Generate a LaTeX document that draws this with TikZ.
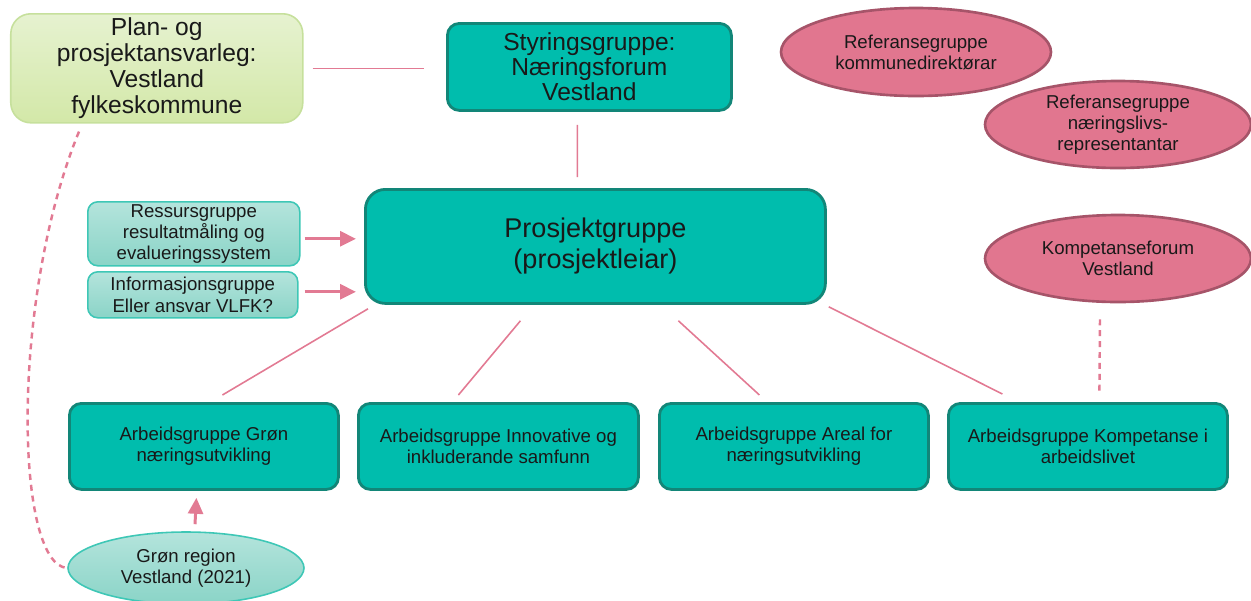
\documentclass[tikz,border=0pt]{standalone}
\usepackage{fontspec}
\setmainfont{Liberation Sans}
\usetikzlibrary{shapes,arrows.meta,positioning,calc}
\definecolor{vl-teal}{RGB}{0, 189, 173}
\definecolor{vl-tealdark}{RGB}{18, 134, 120}
\definecolor{vl-mint}{RGB}{62, 199, 182}
\definecolor{vl-minttop}{RGB}{180, 228, 220}
\definecolor{vl-mintbot}{RGB}{138, 212, 199}
\definecolor{vl-greentop}{RGB}{230, 242, 208}
\definecolor{vl-greenbot}{RGB}{211, 232, 168}
\definecolor{vl-green}{RGB}{198, 224, 156}
\definecolor{vl-pink}{RGB}{225, 118, 143}
\definecolor{vl-pinkdark}{RGB}{166, 84, 105}
\definecolor{vl-line}{RGB}{226, 122, 147}
\tikzstyle{a}=[anchor=north west]
\tikzstyle{base}=[align=center,text=black!90,inner sep=0pt]
\tikzstyle{small}=[font=\fontsize{10.6}{12}\selectfont]
\tikzstyle{large}=[font=\fontsize{14}{14.7}\selectfont]
\tikzstyle{group}=[base,a,draw=vl-tealdark,fill=vl-teal,line width=1.6pt,rounded corners=0.24cm]
\tikzstyle{support}=[base,a,small,draw=vl-mint,top color=vl-minttop,bottom color=vl-mintbot,line width=0.9pt,rounded corners=0.2cm]
\tikzstyle{owner}=[base,a,large,draw=vl-green,top color=vl-greentop,bottom color=vl-greenbot,line width=0.9pt,rounded corners=0.4cm]
\tikzstyle{reference}=[base,small,ellipse,draw=vl-pinkdark,fill=vl-pink,line width=1.5pt]
\tikzstyle{seed}=[base,small,ellipse,draw=vl-mint,top color=vl-minttop,bottom color=vl-mintbot,line width=0.9pt]
\tikzstyle{link}=[draw=vl-line,line width=0.9pt]
\tikzstyle{loose}=[draw=vl-line,line width=1.4pt,dash pattern=on 3.4pt off 2.8pt]
\tikzstyle{arrow}=[draw=vl-line,line width=1.7pt,-{Triangle[length=0.32cm,width=0.3cm]}]

\begin{document}
\begin{tikzpicture}
    \useasboundingbox (0,0) rectangle (25.02,-12);
    \clip (0,0) rectangle (25.02,-12);

    \node[owner, minimum width=5.84cm, minimum height=2.18cm] at (0.2,-0.26) (plan) {Plan- og\\prosjektansvarleg:\\Vestland\\fylkeskommune};
    \node[group, font=\fontsize{14}{14.2}\selectfont, minimum width=5.68cm, minimum height=1.74cm] at (8.92,-0.44) (styring) {Styringsgruppe:\\Næringsforum\\Vestland};
    \node[group, font=\fontsize{15.4}{17.6}\selectfont, rounded corners=0.4cm, minimum width=9.2cm, minimum height=2.28cm] at (7.28,-3.76) (prosjekt) {Prosjektgruppe\\(prosjektleiar)};

    \node[support, minimum width=4.24cm, minimum height=1.28cm] at (1.74,-4.02) (ressurs) {Ressursgruppe\\resultatmåling og\\evalueringssystem};
    \node[support, minimum width=4.2cm, minimum height=0.92cm] at (1.74,-5.42) (info) {Informasjonsgruppe\\Eller ansvar VLFK?};

    \node[reference, minimum width=5.4cm, minimum height=1.76cm] at (18.32,-1.04) (ref1) {Referansegruppe\\kommunedirektørar};
    \node[reference, minimum width=5.32cm, minimum height=1.74cm] at (22.36,-2.49) (ref2) {Referansegruppe\\næringslivs-\\representantar};
    \node[reference, minimum width=5.32cm, minimum height=1.74cm] at (22.36,-5.17) (komp) {Kompetanseforum\\Vestland};

    \node[group, small, minimum width=5.38cm, minimum height=1.72cm] at (1.36,-8.04) (a1) {Arbeidsgruppe Grøn\\næringsutvikling};
    \node[group, small, minimum width=5.6cm, minimum height=1.72cm] at (7.14,-8.04) (a2) {Arbeidsgruppe Innovative og\\inkluderande samfunn};
    \node[group, small, minimum width=5.38cm, minimum height=1.72cm] at (13.16,-8.04) (a3) {Arbeidsgruppe Areal for\\næringsutvikling};
    \node[group, small, minimum width=5.58cm, minimum height=1.72cm] at (18.94,-8.04) (a4) {Arbeidsgruppe Kompetanse i\\arbeidslivet};

    \node[seed, minimum width=4.72cm, minimum height=1.44cm] at (3.72,-11.36) (gron) {Grøn region\\Vestland (2021)};

    \draw[link, shorten <=0.18cm, shorten >=0.44cm] (plan.east) -- (plan.east -| styring.west);
    \draw[link, shorten <=0.26cm, shorten >=0.22cm] ([xshift=-0.24cm]styring.south) -- ([xshift=-0.36cm]prosjekt.north);
    \draw[arrow] ([shift={(0.08,-0.1)}]ressurs.east) -- ($(ressurs.east -| prosjekt.west)+(-0.16,-0.1)$);
    \draw[arrow] ([shift={(0.12,0.06)}]info.east) -- ($(info.east -| prosjekt.west)+(-0.16,0.06)$);

    \draw[link] ([shift={(0.08,-0.08)}]prosjekt.south west) -- ([shift={(0.37,0.14)}]a1.north);
    \draw[link] ([shift={(-1.5,-0.32)}]prosjekt.south) -- ([shift={(-0.8,0.14)}]a2.north);
    \draw[link] ([shift={(1.66,-0.32)}]prosjekt.south) -- ([shift={(-0.69,0.14)}]a3.north);
    \draw[link] ([shift={(0.04,-0.04)}]prosjekt.south east) -- ([shift={(-1.71,0.16)}]a4.north);
    \draw[loose] ([shift={(-0.36,-0.32)}]komp.south) -- ([shift={(0.23,0.16)}]a4.north);

    \draw[arrow] ([shift={(0.18,0.14)}]gron.north) -- ([shift={(-0.15,-0.14)}]a1.south);
    \draw[loose] ([shift={(1.38,-0.16)}]plan.south west) .. controls (0.2,-6.0) and (0.3,-11.3) .. (gron.west);
\end{tikzpicture}
\end{document}
